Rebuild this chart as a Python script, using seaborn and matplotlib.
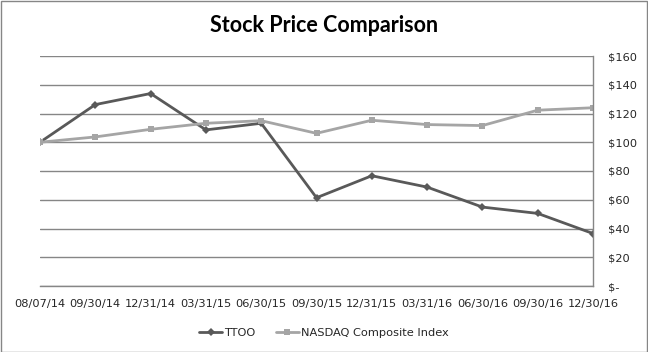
import matplotlib
matplotlib.use("Agg")
import matplotlib.pyplot as plt
import seaborn as sns
import pandas as pd
from matplotlib.patches import Rectangle
from matplotlib.lines import Line2D

dates = ["08/07/14", "09/30/14", "12/31/14", "03/31/15", "06/30/15", "09/30/15",
         "12/31/15", "03/31/16", "06/30/16", "09/30/16", "12/30/16"]
ttoo = [100, 126.2, 133.9, 108.6, 113.2, 61.4, 76.7, 68.8, 54.9, 50.5, 36.5]
nasdaq = [100, 103.7, 109.0, 113.2, 115.0, 106.2, 115.3, 112.3, 111.6, 122.3, 124.0]
series_names = ["TTOO", "NASDAQ Composite Index"]
yticks = [0, 20, 40, 60, 80, 100, 120, 140, 160]

df = pd.DataFrame({
    "date": dates * 2,
    "pos": list(range(len(dates))) * 2,
    "value": ttoo + nasdaq,
    "series": [series_names[0]] * len(dates) + [series_names[1]] * len(dates),
})

sns.set_theme(style="white")
plt.rcParams["font.family"] = ["DejaVu Sans"]

W, H = 648, 352
fig = plt.figure(figsize=(W / 100, H / 100), dpi=100)
ax = fig.add_axes([40 / W, 1 - 286 / H, (593 - 40) / W, (286 - 56) / H])

palette = {series_names[0]: "#595959", series_names[1]: "#a5a5a5"}
markers = {series_names[0]: "D", series_names[1]: "s"}
msize = {series_names[0]: 4.0, series_names[1]: 5.0}
sns.lineplot(data=df, x="pos", y="value", hue="series", style="series",
             palette=palette, markers=markers, dashes=False, linewidth=2,
             markersize=5, markeredgewidth=0, ax=ax, legend=False)
for line in ax.get_lines():
    if line.get_marker() == "D":
        line.set_markersize(msize[series_names[0]])

ax.set_xlim(0, len(dates) - 1)
ax.set_ylim(0, 160)
ax.set_xticks(range(len(dates)))
ax.set_xticklabels(dates)
ax.set_yticks(yticks)
ax.set_yticklabels(["$-" if v == 0 else f"${v}" for v in yticks])
ax.yaxis.tick_right()
ax.tick_params(axis="both", length=0, labelsize=8.2, colors="#262626")
ax.tick_params(axis="y", pad=11)
ax.tick_params(axis="x", pad=9)
ax.set_xlabel("")
ax.set_ylabel("")
ax.grid(axis="y", color="#868686", linewidth=1)
ax.set_axisbelow(True)
for s in ["top", "left"]:
    ax.spines[s].set_visible(False)
for s in ["right", "bottom"]:
    ax.spines[s].set_color("#868686")
    ax.spines[s].set_linewidth(1)

fig.text(0.5, 1 - 25 / H, "Stock Price Comparison", ha="center", va="center",
         fontsize=15.5, fontweight="bold", color="black", family=["Lato", "DejaVu Sans"])

handles = [Line2D([], [], color=palette[n], marker=markers[n], linewidth=2,
                  markersize=msize[n], markeredgewidth=0)
           for n in series_names]
fig.legend(handles, series_names, loc="center", bbox_to_anchor=(0.5, 1 - 333 / H),
           ncol=2, frameon=False, fontsize=8.2, handlelength=2.0, columnspacing=1.8,
           handletextpad=0.2, labelcolor="#262626")

fig.patches.append(Rectangle((0.5 / W, 0.5 / H), 1 - 1.5 / W, 1 - 1.5 / H,
                             transform=fig.transFigure,
                             fill=False, edgecolor="#868686", linewidth=1))
fig.savefig("out.png", dpi=100, facecolor="white")
